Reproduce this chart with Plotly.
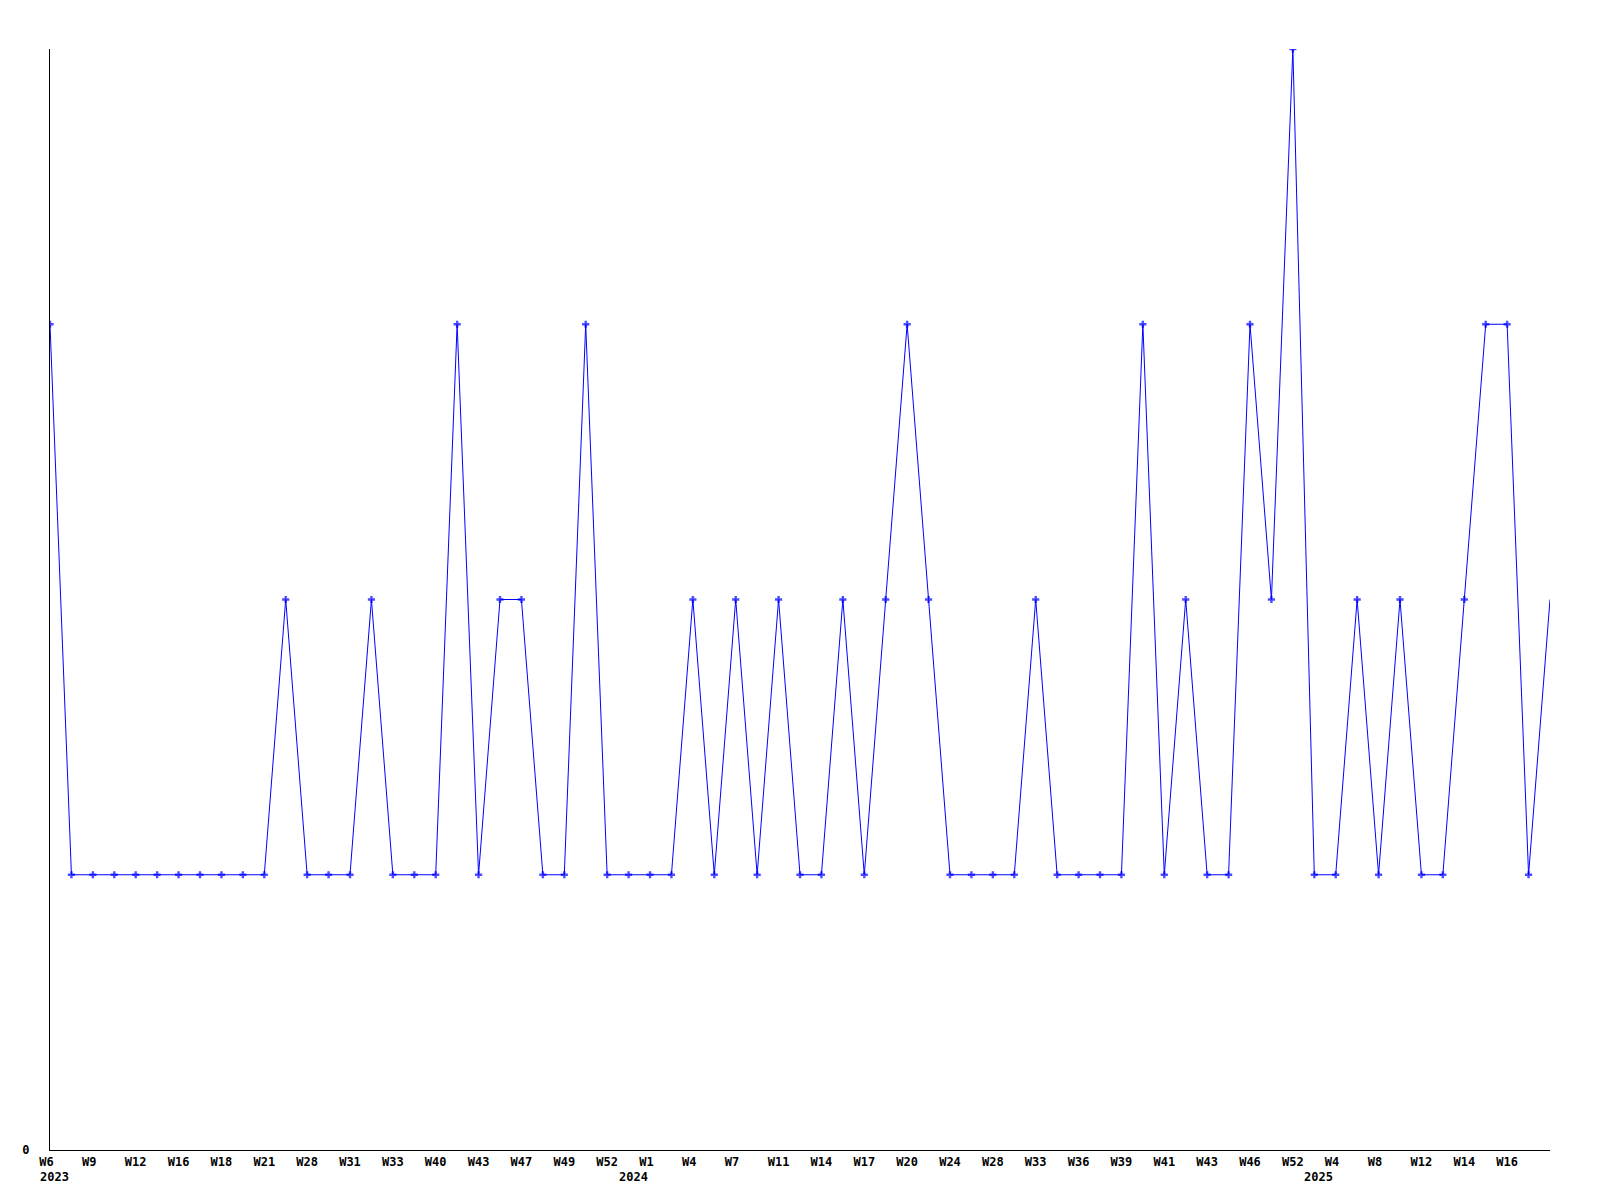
import plotly.graph_objects as go

# Weekly values (one per category position)
values = [3, 1, 1, 1, 1, 1, 1, 1, 1, 1, 1, 2, 1, 1, 1, 2, 1, 1, 1, 3,
          1, 2, 2, 1, 1, 3, 1, 1, 1, 1, 2, 1, 2, 1, 2, 1, 1, 2, 1, 2,
          3, 2, 1, 1, 1, 1, 2, 1, 1, 1, 1, 3, 1, 2, 1, 1, 3, 2, 4, 1,
          1, 2, 1, 2, 1, 1, 2, 3, 3, 1, 2]

# Tick labels shown on every second position
tick_labels = ["W6", "W9", "W12", "W16", "W18", "W21", "W28", "W31", "W33", "W40",
               "W43", "W47", "W49", "W52", "W1", "W4", "W7", "W11", "W14", "W17",
               "W20", "W24", "W28", "W33", "W36", "W39", "W41", "W43", "W46", "W52",
               "W4", "W8", "W12", "W14", "W16"]

# Year labels and the positions where they appear
year_labels = ["2023", "2024", "2025"]
year_positions = [0, 27, 59]

x = list(range(len(values)))
tick_vals = [2 * i for i in range(len(tick_labels))]
# pad to 3 characters (monospace) so labels read left-aligned like the original
tick_text = [t + "\u00a0" * (3 - len(t)) for t in tick_labels]

font = dict(family="DejaVu Sans Mono", size=12, color="black", weight="bold")

fig = go.Figure()
fig.add_trace(go.Scatter(
    x=x, y=values, mode="lines+markers",
    line=dict(color="#0000ff", width=1),
    marker=dict(symbol="cross", size=[6] * (len(values) - 1) + [0], color="#0000ff",
                line=dict(width=0)),
    showlegend=False,
))

for yl, yp in zip(year_labels, year_positions):
    fig.add_annotation(x=yp, y=0, xref="x", yref="paper", text=yl, showarrow=False,
                       yshift=-27, xshift=-12, yanchor="middle", xanchor="left",
                       font=font)

fig.update_layout(
    width=1584, height=1184,
    margin=dict(l=42, r=42, t=41, b=42),
    plot_bgcolor="white", paper_bgcolor="white",
    font=font,
    xaxis=dict(range=[0, len(values) - 1], tickvals=tick_vals, ticktext=tick_text,
               showgrid=False, zeroline=False, showline=True, linecolor="black",
               linewidth=1, ticks="outside", ticklen=1, tickcolor="white",
               tickfont=font),
    yaxis=dict(range=[0, 4], tickvals=[0], ticktext=["0"], showgrid=False,
               zeroline=False, showline=True, linecolor="black", linewidth=1,
               ticks="outside", ticklen=17, tickcolor="white", tickfont=font),
)

fig.write_html("out.html")
